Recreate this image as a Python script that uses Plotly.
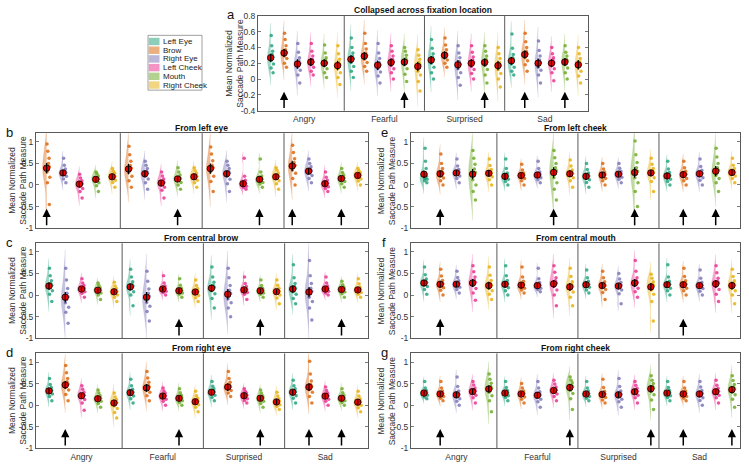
import plotly.graph_objects as go

W, H = 749, 468
FONT = "Liberation Sans, Arial, Helvetica, sans-serif"

EMOTIONS = ["Angry", "Fearful", "Surprised", "Sad"]
FEATURES = ["Left Eye", "Brow", "Right Eye", "Left Cheek", "Mouth", "Right Cheek"]
COLORS = ["#1b9e77", "#d95f02", "#7570b3", "#e7298a", "#66a61e", "#e6ab02"]

# ---------------- panel a : collapsed ----------------
A_FEATURES = FEATURES
A_MEANS = [[0.27, 0.33, 0.19, 0.215, 0.20, 0.17],
           [0.25, 0.29, 0.175, 0.21, 0.215, 0.16],
           [0.24, 0.30, 0.18, 0.20, 0.21, 0.17],
           [0.23, 0.31, 0.20, 0.20, 0.215, 0.18]]
A_ERR = [0.05, 0.05, 0.06, 0.05, 0.05, 0.06]
# individual participant values (x100)
A_ANGRY = [[8, 14, 19, 23, 26, 28, 31, 35, 42, 55],
           [15, 20, 26, 29, 32, 34, 37, 42, 50, 58],
           [-5, 5, 11, 15, 18, 20, 23, 27, 34, 45],
           [5, 10, 15, 18, 21, 22, 25, 29, 35, 45],
           [2, 8, 13, 17, 19, 21, 24, 27, 33, 43],
           [-7, 2, 8, 13, 16, 18, 21, 25, 32, 42]]
A_FEARFUL = [[2, 10, 16, 21, 24, 26, 29, 33, 40, 52],
             [10, 16, 21, 25, 28, 30, 33, 38, 45, 58],
             [-5, 4, 9, 13, 16, 18, 21, 26, 33, 45],
             [0, 8, 13, 17, 20, 22, 25, 29, 35, 42],
             [-3, 6, 13, 18, 21, 23, 26, 30, 35, 40],
             [-15, -3, 5, 10, 15, 18, 21, 25, 30, 37]]
A_SURPRISED = [[0, 8, 15, 20, 23, 25, 28, 32, 39, 50],
               [15, 20, 24, 27, 29, 31, 33, 37, 43, 52],
               [-8, 2, 8, 13, 17, 19, 22, 27, 33, 42],
               [0, 7, 12, 16, 19, 21, 24, 28, 34, 42],
               [-5, 5, 12, 17, 20, 22, 25, 29, 35, 42],
               [-10, 0, 7, 12, 16, 18, 21, 26, 32, 40]]
A_SAD = [[5, 10, 15, 19, 22, 24, 27, 31, 39, 57],
         [10, 18, 23, 27, 30, 32, 35, 40, 47, 58],
         [-5, 5, 11, 15, 19, 21, 24, 29, 36, 48],
         [-2, 8, 13, 17, 19, 21, 24, 27, 32, 40],
         [0, 8, 14, 18, 21, 23, 25, 29, 34, 42],
         [-5, 4, 10, 14, 17, 19, 22, 26, 32, 40]]
A_ARROWS = [("Angry", "Brow"), ("Fearful", "Mouth"), ("Surprised", "Mouth"),
            ("Sad", "Brow"), ("Sad", "Mouth")]

# ---------------- panel b : from left eye ----------------
B_FEATURES = ["Brow", "Right Eye", "Left Cheek", "Mouth", "Right Cheek"]
B_MEANS = [[0.39, 0.28, 0.02, 0.13, 0.19],
           [0.37, 0.26, 0.045, 0.14, 0.19],
           [0.38, 0.26, 0.03, 0.13, 0.19],
           [0.44, 0.32, 0.03, 0.15, 0.22]]
B_ERR = [0.12, 0.07, 0.06, 0.06, 0.06]
B_ANGRY = [[-45, 5, 18, 30, 38, 42, 50, 62, 78, 95],
           [5, 14, 20, 24, 27, 29, 32, 37, 46, 62],
           [-30, -15, -8, -3, 1, 3, 6, 10, 16, 25],
           [-15, -2, 5, 9, 12, 14, 17, 21, 26, 30],
           [-5, 6, 11, 15, 18, 20, 23, 27, 32, 38]]
B_FEARFUL = [[-5, 10, 20, 29, 35, 39, 45, 55, 70, 90],
             [-10, 5, 14, 20, 25, 28, 32, 38, 46, 55],
             [-30, -12, -5, 0, 3, 6, 9, 14, 21, 30],
             [-10, 0, 6, 10, 13, 15, 18, 23, 30, 40],
             [-5, 5, 11, 15, 18, 20, 23, 27, 33, 40]]
B_SURPRISED = [[-15, 8, 20, 30, 36, 40, 46, 56, 72, 88],
               [-15, 3, 13, 20, 25, 28, 32, 38, 46, 55],
               [-10, -6, -3, 0, 2, 4, 7, 11, 20, 62],
               [-5, 2, 6, 9, 12, 14, 17, 21, 30, 60],
               [-10, 3, 10, 15, 18, 20, 23, 28, 34, 40]]
B_SAD = [[0, 15, 27, 35, 42, 46, 52, 61, 75, 92],
         [5, 15, 22, 27, 31, 33, 37, 42, 50, 60],
         [-15, -8, -4, -1, 2, 4, 7, 11, 18, 30],
         [-5, 3, 8, 12, 14, 16, 19, 23, 29, 38],
         [0, 9, 14, 18, 21, 23, 26, 29, 33, 38]]
B_ARROWS = [("Angry", "Brow"), ("Fearful", "Mouth"), ("Surprised", "Mouth"),
            ("Sad", "Brow"), ("Sad", "Mouth")]

# ---------------- panel c : from central brow ----------------
C_FEATURES = ["Left Eye", "Right Eye", "Left Cheek", "Mouth", "Right Cheek"]
C_MEANS = [[0.21, -0.05, 0.14, 0.11, 0.075],
           [0.19, -0.05, 0.14, 0.10, 0.07],
           [0.16, 0.02, 0.12, 0.10, 0.08],
           [0.14, 0.07, 0.14, 0.13, 0.12]]
C_ERR = [0.08, 0.12, 0.05, 0.05, 0.05]
C_ANGRY = [[-15, 2, 10, 16, 20, 23, 27, 33, 45, 62],
           [-65, -40, -28, -18, -10, -4, 4, 15, 35, 62],
           [-5, 4, 8, 11, 13, 15, 18, 22, 28, 38],
           [-10, 0, 5, 8, 10, 12, 14, 17, 22, 28],
           [-15, -5, 0, 4, 7, 9, 11, 15, 21, 30]]
C_FEARFUL = [[-25, 0, 8, 14, 18, 21, 25, 31, 42, 60],
             [-60, -38, -26, -17, -9, -3, 4, 14, 32, 55],
             [0, 6, 9, 11, 13, 15, 17, 21, 28, 45],
             [-5, 2, 5, 8, 9, 11, 13, 16, 23, 38],
             [-15, -6, -1, 3, 6, 8, 11, 15, 22, 35]]
C_SURPRISED = [[-30, -8, 3, 10, 15, 18, 23, 30, 42, 65],
               [-50, -30, -18, -9, -2, 4, 11, 22, 40, 62],
               [-10, 2, 6, 9, 11, 13, 16, 20, 27, 42],
               [-5, 2, 5, 8, 9, 11, 13, 16, 22, 35],
               [-20, -7, 0, 4, 7, 9, 12, 16, 23, 35]]
C_SAD = [[-20, -8, 2, 8, 12, 15, 20, 27, 40, 70],
         [-58, -30, -15, -5, 3, 9, 16, 27, 45, 80],
         [0, 5, 9, 11, 13, 15, 17, 21, 28, 42],
         [-5, 3, 7, 10, 12, 14, 16, 19, 24, 32],
         [-5, 2, 6, 9, 11, 13, 15, 19, 26, 38]]
C_ARROWS = [("Fearful", "Mouth"), ("Surprised", "Mouth"), ("Sad", "Mouth")]

# ---------------- panel d : from right eye ----------------
D_FEATURES = ["Left Eye", "Brow", "Left Cheek", "Mouth", "Right Cheek"]
D_MEANS = [[0.33, 0.47, 0.22, 0.15, 0.05],
           [0.29, 0.40, 0.21, 0.16, 0.08],
           [0.30, 0.42, 0.22, 0.16, 0.075],
           [0.30, 0.42, 0.21, 0.16, 0.07]]
D_ERR = [0.06, 0.09, 0.06, 0.05, 0.06]
D_ANGRY = [[10, 20, 26, 30, 32, 34, 37, 41, 48, 62],
           [10, 25, 35, 41, 46, 49, 54, 62, 75, 92],
           [-12, 5, 13, 18, 21, 23, 26, 30, 37, 45],
           [-5, 4, 9, 12, 14, 16, 18, 22, 28, 35],
           [-30, -17, -8, -2, 3, 6, 9, 13, 19, 28]]
D_FEARFUL = [[5, 15, 21, 25, 28, 30, 33, 37, 45, 60],
             [10, 22, 30, 35, 39, 42, 46, 53, 63, 78],
             [0, 9, 14, 17, 20, 22, 24, 28, 33, 40],
             [0, 6, 10, 13, 15, 17, 19, 23, 29, 38],
             [-15, -5, 1, 5, 7, 9, 12, 16, 22, 32]]
D_SURPRISED = [[10, 18, 23, 27, 29, 31, 34, 38, 44, 55],
               [20, 28, 34, 38, 41, 43, 47, 53, 62, 78],
               [5, 11, 15, 18, 21, 23, 25, 28, 32, 38],
               [-5, 4, 9, 12, 15, 17, 19, 22, 28, 35],
               [-10, -3, 1, 4, 7, 9, 11, 15, 21, 30]]
D_SAD = [[5, 16, 22, 26, 29, 31, 34, 38, 45, 58],
         [5, 20, 30, 36, 40, 43, 48, 56, 72, 102],
         [0, 9, 14, 17, 20, 22, 24, 28, 34, 42],
         [0, 6, 10, 13, 15, 17, 19, 23, 29, 38],
         [-15, -6, 0, 4, 6, 8, 11, 15, 21, 32]]
D_ARROWS = [("Angry", "Brow"), ("Fearful", "Mouth"), ("Surprised", "Mouth"),
            ("Sad", "Brow"), ("Sad", "Mouth")]

# ---------------- panel e : from left cheek ----------------
E_FEATURES = ["Left Eye", "Brow", "Right Eye", "Mouth", "Right Cheek"]
E_MEANS = [[0.25, 0.26, 0.28, 0.25, 0.27],
           [0.20, 0.22, 0.23, 0.29, 0.26],
           [0.20, 0.23, 0.25, 0.29, 0.28],
           [0.21, 0.24, 0.26, 0.32, 0.29]]
E_ERR = [0.08, 0.07, 0.06, 0.12, 0.07]
E_ANGRY = [[5, 10, 13, 15, 17, 20, 26, 38, 55, 85],
           [0, 10, 16, 20, 24, 27, 31, 38, 50, 72],
           [5, 15, 21, 25, 27, 29, 32, 36, 44, 60],
           [-35, -15, 0, 12, 22, 29, 37, 48, 62, 80],
           [0, 12, 19, 23, 26, 28, 31, 36, 45, 60]]
E_FEARFUL = [[0, 8, 13, 16, 19, 21, 24, 28, 38, 60],
             [0, 10, 15, 18, 21, 23, 25, 28, 35, 48],
             [5, 12, 17, 20, 22, 24, 27, 30, 38, 55],
             [-35, -10, 5, 17, 26, 33, 40, 50, 63, 80],
             [-5, 10, 17, 22, 25, 27, 30, 35, 44, 58]]
E_SURPRISED = [[-5, 6, 12, 16, 19, 21, 24, 28, 36, 50],
               [0, 10, 15, 19, 22, 24, 27, 30, 37, 50],
               [5, 13, 18, 22, 24, 26, 29, 32, 39, 50],
               [-50, -15, 5, 17, 25, 32, 40, 52, 70, 102],
               [-15, 8, 17, 23, 27, 29, 33, 38, 48, 62]]
E_SAD = [[0, 8, 13, 17, 20, 22, 25, 29, 37, 55],
         [0, 10, 15, 19, 23, 25, 28, 32, 40, 55],
         [0, 11, 17, 21, 25, 27, 30, 34, 43, 60],
         [-15, 5, 15, 22, 28, 34, 40, 50, 65, 85],
         [5, 15, 21, 25, 28, 30, 33, 38, 46, 62]]
E_ARROWS = [("Angry", "Brow"), ("Fearful", "Mouth"), ("Surprised", "Mouth"),
            ("Sad", "Brow"), ("Sad", "Mouth")]

# ---------------- panel f : from central mouth ----------------
F_FEATURES = ["Left Eye", "Brow", "Right Eye", "Left Cheek", "Right Cheek"]
F_MEANS = [[0.28, 0.25, 0.25, 0.28, 0.22],
           [0.25, 0.23, 0.22, 0.26, 0.19],
           [0.24, 0.22, 0.21, 0.28, 0.19],
           [0.24, 0.24, 0.22, 0.26, 0.22]]
F_ERR = [0.07, 0.07, 0.06, 0.09, 0.09]
F_ANGRY = [[2, 13, 20, 24, 27, 29, 32, 37, 47, 65],
           [0, 11, 17, 21, 24, 26, 29, 34, 44, 60],
           [5, 13, 18, 22, 24, 26, 29, 33, 41, 55],
           [-12, 5, 15, 22, 27, 30, 35, 42, 54, 68],
           [-10, 2, 10, 16, 20, 23, 27, 34, 46, 65]]
F_FEARFUL = [[0, 10, 17, 21, 24, 26, 29, 34, 45, 68],
             [5, 12, 16, 19, 22, 24, 27, 32, 42, 65],
             [8, 13, 16, 19, 21, 23, 25, 29, 38, 62],
             [-25, 0, 12, 20, 25, 28, 33, 40, 53, 68],
             [-25, -5, 7, 13, 18, 21, 25, 31, 43, 62]]
F_SURPRISED = [[5, 12, 18, 21, 23, 25, 28, 32, 40, 58],
               [-10, 6, 13, 18, 21, 23, 26, 31, 40, 55],
               [-20, 3, 12, 17, 20, 22, 25, 29, 37, 50],
               [-5, 8, 16, 22, 26, 29, 33, 40, 55, 80],
               [-60, -15, 2, 12, 18, 22, 26, 31, 39, 48]]
F_SAD = [[0, 10, 16, 20, 23, 25, 28, 32, 42, 70],
         [0, 10, 16, 20, 23, 25, 28, 33, 43, 62],
         [0, 9, 15, 19, 21, 23, 26, 30, 39, 58],
         [-15, 2, 13, 20, 25, 28, 32, 39, 52, 68],
         [-20, 0, 10, 16, 21, 24, 28, 33, 43, 60]]
F_ARROWS = [("Angry", "Brow"), ("Sad", "Brow")]

# ---------------- panel g : from right cheek ----------------
G_FEATURES = ["Left Eye", "Brow", "Right Eye", "Left Cheek", "Mouth"]
G_MEANS = [[0.28, 0.26, 0.24, 0.315, 0.375],
           [0.28, 0.26, 0.23, 0.34, 0.41],
           [0.26, 0.25, 0.24, 0.31, 0.38],
           [0.28, 0.26, 0.26, 0.31, 0.36]]
G_ERR = [0.05, 0.05, 0.07, 0.06, 0.08]
G_ANGRY = [[15, 19, 23, 25, 27, 29, 31, 34, 40, 55],
           [10, 16, 20, 23, 25, 27, 29, 33, 40, 55],
           [0, 9, 15, 19, 22, 25, 28, 33, 43, 65],
           [5, 17, 23, 27, 30, 33, 36, 40, 47, 55],
           [-15, 10, 22, 30, 35, 39, 44, 51, 60, 72]]
G_FEARFUL = [[10, 18, 22, 25, 27, 29, 31, 34, 41, 55],
             [5, 14, 19, 22, 25, 27, 29, 33, 40, 50],
             [-5, 8, 14, 18, 21, 24, 27, 31, 40, 55],
             [10, 20, 26, 30, 33, 35, 38, 42, 49, 58],
             [-10, 15, 27, 34, 39, 43, 47, 52, 58, 65]]
G_SURPRISED = [[10, 16, 20, 23, 25, 27, 29, 33, 40, 55],
               [5, 12, 18, 21, 24, 26, 28, 32, 41, 60],
               [-5, 8, 14, 19, 22, 25, 28, 33, 43, 62],
               [5, 17, 23, 27, 30, 32, 35, 39, 46, 55],
               [-10, 12, 24, 31, 36, 40, 44, 50, 58, 68]]
G_SAD = [[10, 18, 22, 25, 27, 29, 31, 34, 41, 55],
         [10, 16, 20, 23, 25, 27, 29, 33, 40, 55],
         [0, 11, 17, 21, 24, 27, 30, 34, 42, 55],
         [5, 17, 23, 27, 30, 32, 35, 39, 46, 58],
         [-5, 14, 24, 30, 34, 38, 42, 48, 57, 68]]
G_ARROWS = [("Angry", "Brow"), ("Fearful", "Mouth"), ("Surprised", "Mouth"),
            ("Sad", "Brow"), ("Sad", "Mouth")]

A_YTICKS = [0.8, 0.6, 0.4, 0.2, 0, -0.2, -0.4]
A_YTEXT = ["0.8", "0.6", "0.4", "0.2", "0", "-0.2", "-0.4"]
S_YTICKS = [1, 0.5, 0, -0.5, -1]
S_YTEXT = ["1", "0.5", "0", "-0.5", "-1"]

# ---------------- layout configuration (pixels) ----------------
LC = (36, 367.5)
RC = (411, 740)
R1, R2, R3 = (131, 228), (243.5, 340.5), (356, 453)

PANELS = [
    dict(letter="a", title="Collapsed across fixation location", feats=A_FEATURES,
         means=A_MEANS, err=A_ERR, pts=[A_ANGRY, A_FEARFUL, A_SURPRISED, A_SAD],
         arrows=A_ARROWS, xpx=(258, 588), ypx=(11, 108), yr=[-0.4, 0.8],
         yt=(A_YTICKS, A_YTEXT), xr=[0.05, 24.73], labels=True, arr=(-0.16, -0.385),
         ylab_off=23.5),
    dict(letter="b", title="From left eye", feats=B_FEATURES, means=B_MEANS, err=B_ERR,
         pts=[B_ANGRY, B_FEARFUL, B_SURPRISED, B_SAD], arrows=B_ARROWS,
         xpx=LC, ypx=R1, yr=[-1, 1.2], yt=(S_YTICKS, S_YTEXT), xr=[0.35, 20.6],
         labels=False, arr=(-0.55, -0.97), ylab_off=18),
    dict(letter="c", title="From central brow", feats=C_FEATURES, means=C_MEANS, err=C_ERR,
         pts=[C_ANGRY, C_FEARFUL, C_SURPRISED, C_SAD], arrows=C_ARROWS,
         xpx=LC, ypx=R2, yr=[-1, 1.2], yt=(S_YTICKS, S_YTEXT), xr=[0.2, 20.6],
         labels=False, arr=(-0.55, -0.97), ylab_off=18),
    dict(letter="d", title="From right eye", feats=D_FEATURES, means=D_MEANS, err=D_ERR,
         pts=[D_ANGRY, D_FEARFUL, D_SURPRISED, D_SAD], arrows=D_ARROWS,
         xpx=LC, ypx=R3, yr=[-1, 1.2], yt=(S_YTICKS, S_YTEXT), xr=[0.2, 20.6],
         labels=True, arr=(-0.55, -0.97), ylab_off=18),
    dict(letter="e", title="From left cheek", feats=E_FEATURES, means=E_MEANS, err=E_ERR,
         pts=[E_ANGRY, E_FEARFUL, E_SURPRISED, E_SAD], arrows=E_ARROWS,
         xpx=RC, ypx=R1, yr=[-1, 1.2], yt=(S_YTICKS, S_YTEXT), xr=[0.2, 20.5],
         labels=False, arr=(-0.55, -0.97), ylab_off=24.5),
    dict(letter="f", title="From central mouth", feats=F_FEATURES, means=F_MEANS, err=F_ERR,
         pts=[F_ANGRY, F_FEARFUL, F_SURPRISED, F_SAD], arrows=F_ARROWS,
         xpx=RC, ypx=R2, yr=[-1, 1.2], yt=(S_YTICKS, S_YTEXT), xr=[0.2, 20.5],
         labels=False, arr=(-0.55, -0.97), ylab_off=24.5),
    dict(letter="g", title="From right cheek", feats=G_FEATURES, means=G_MEANS, err=G_ERR,
         pts=[G_ANGRY, G_FEARFUL, G_SURPRISED, G_SAD], arrows=G_ARROWS,
         xpx=RC, ypx=R3, yr=[-1, 1.2], yt=(S_YTICKS, S_YTEXT), xr=[0.2, 20.5],
         labels=True, arr=(-0.55, -0.97), ylab_off=24.5),
]


def rgba(hexc, a):
    h = hexc.lstrip("#")
    return "rgba(%d,%d,%d,%s)" % (int(h[0:2], 16), int(h[2:4], 16), int(h[4:6], 16), a)


def px_x(x):
    return x / W


def px_y(y):
    return 1 - y / H


AXIS_COL = "#5a5a5a"
TXT_COL = "#333333"

fig = go.Figure()
layout = dict(width=W, height=H, margin=dict(l=0, r=0, t=0, b=0),
              paper_bgcolor="white", plot_bgcolor="white", showlegend=False,
              violinmode="overlay", font=dict(family=FONT, size=9, color=TXT_COL))
shapes, annotations = [], []

for k, p in enumerate(PANELS):
    sfx = "" if k == 0 else str(k + 1)
    xa, ya = "x" + sfx, "y" + sfx
    n = len(p["feats"])
    for e, emo in enumerate(EMOTIONS):
        for i, feat in enumerate(p["feats"]):
            col = COLORS[FEATURES.index(feat)]
            pos = e * n + i + 1
            vals = [v / 100.0 for v in p["pts"][e][i]]
            fig.add_trace(go.Violin(
                x=[pos] * len(vals), y=vals, xaxis=xa, yaxis=ya, orientation="v",
                side="negative", width=0.5, points="all", pointpos=0.45, jitter=0.5,
                fillcolor=rgba(col, 0.42), line=dict(width=0.4, color=rgba(col, 0.35)),
                marker=dict(size=3.5, color=rgba(col, 0.8), line=dict(width=0)),
                spanmode="soft", box_visible=False, meanline_visible=False,
                showlegend=False, hoverinfo="skip"))
    xs, ys, es = [], [], []
    for e in range(4):
        for i in range(n):
            xs.append(e * n + i + 1)
            ys.append(p["means"][e][i])
            es.append(p["err"][i])
    fig.add_trace(go.Scatter(x=xs, y=ys, xaxis=xa, yaxis=ya, mode="markers",
                             marker=dict(size=6.5, color="#f00000",
                                         line=dict(color="black", width=0.8)),
                             hoverinfo="skip"))
    fig.add_trace(go.Scatter(x=xs, y=ys, xaxis=xa, yaxis=ya, mode="markers",
                             marker=dict(size=1, color="rgba(0,0,0,0)"),
                             error_y=dict(type="data", array=es, color="black",
                                          thickness=1.2, width=0),
                             hoverinfo="skip"))

    x0, x1 = p["xpx"]
    y0, y1 = p["ypx"]
    centers = [e * n + (n + 1) / 2 for e in range(4)]
    layout["xaxis" + sfx] = dict(
        domain=[px_x(x0), px_x(x1)], anchor=ya, range=p["xr"], type="linear",
        showgrid=False, zeroline=False, showline=True, mirror=True,
        linecolor=AXIS_COL, linewidth=1, ticks="",
        tickvals=centers if p["labels"] else [], ticktext=EMOTIONS if p["labels"] else [],
        showticklabels=p["labels"], tickfont=dict(size=8.5, color=TXT_COL, family=FONT))
    layout["yaxis" + sfx] = dict(
        domain=[px_y(y1), px_y(y0)], anchor=xa, range=p["yr"],
        showgrid=False, zeroline=False, showline=True, mirror="allticks",
        linecolor=AXIS_COL, linewidth=1, ticks="inside", ticklen=3, tickwidth=0.8,
        tickcolor=AXIS_COL, tickvals=p["yt"][0], ticktext=p["yt"][1],
        tickfont=dict(size=8.5, color=TXT_COL, family=FONT))

    for e in range(1, 4):
        shapes.append(dict(type="line", xref=xa, yref=ya + " domain", x0=e * n + 0.5,
                           x1=e * n + 0.5, y0=0, y1=1,
                           line=dict(color=AXIS_COL, width=1)))

    head, tail = p["arr"]
    for emo, feat in p["arrows"]:
        pos = EMOTIONS.index(emo) * n + p["feats"].index(feat) + 1
        annotations.append(dict(xref=xa, yref=ya, axref=xa, ayref=ya, x=pos, y=head,
                                ax=pos, ay=tail, text="", showarrow=True, arrowhead=2,
                                arrowsize=1.1, arrowwidth=1.5, arrowcolor="black",
                                standoff=0, startstandoff=0))

    annotations.append(dict(xref="paper", yref="paper", x=px_x((x0 + x1) / 2),
                            y=px_y(y0 - 5.5), text="<b>%s</b>" % p["title"], showarrow=False,
                            font=dict(size=8.5, color="#111111", family=FONT),
                            xanchor="center", yanchor="middle"))
    annotations.append(dict(xref="paper", yref="paper", x=px_x(x0 - 27), y=px_y(y0 - 1),
                            text=p["letter"], showarrow=False,
                            font=dict(size=13, color="#111111", family=FONT),
                            xanchor="center", yanchor="middle"))
    annotations.append(dict(xref="paper", yref="paper", x=px_x(x0 - p["ylab_off"]),
                            y=px_y((y0 + y1) / 2),
                            text="Mean Normalized<br>Saccade Path Measure", textangle=-90,
                            showarrow=False, font=dict(size=8.5, color=TXT_COL, family=FONT),
                            xanchor="center", yanchor="middle"))

# legend (drawn manually)
LEG = (148, 31, 202, 87)
shapes.append(dict(type="rect", xref="paper", yref="paper", x0=px_x(LEG[0]), x1=px_x(LEG[2]),
                   y0=px_y(LEG[3]), y1=px_y(LEG[1]), line=dict(color="#888888", width=0.8),
                   fillcolor="white"))
for i, feat in enumerate(FEATURES):
    cy = 37.3 + 8.9 * i
    shapes.append(dict(type="rect", xref="paper", yref="paper", x0=px_x(148.8), x1=px_x(159.5),
                       y0=px_y(cy + 3.8), y1=px_y(cy - 3.8), line=dict(width=0),
                       fillcolor=rgba(COLORS[i], 0.5)))
    annotations.append(dict(xref="paper", yref="paper", x=px_x(160.5), y=px_y(cy),
                            text=feat, showarrow=False, xanchor="left", yanchor="middle",
                            font=dict(size=8, color="#222222", family=FONT)))

layout["shapes"] = shapes
layout["annotations"] = annotations
fig.update_layout(**layout)
fig.write_html("out.html", config={"displayModeBar": False, "staticPlot": True},
               post_script="document.body.style.margin='0px';"
                           "document.body.style.overflow='hidden';")
